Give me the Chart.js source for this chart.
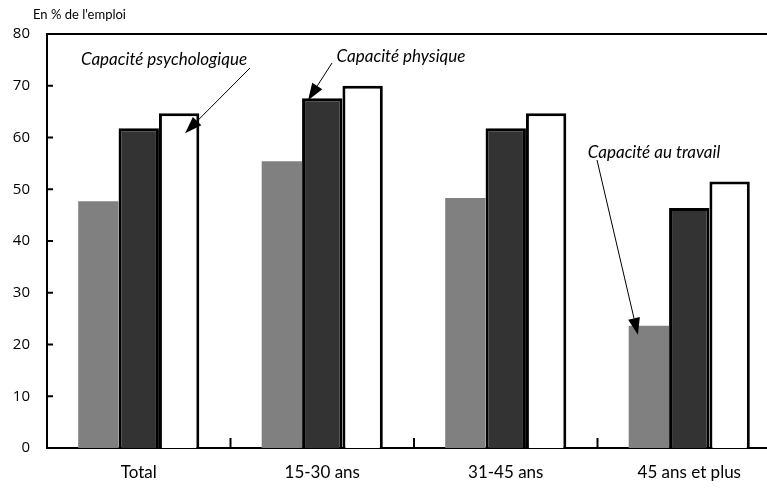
<!DOCTYPE html>
<html>
<head>
<meta charset="utf-8">
<script src="https://cdn.jsdelivr.net/npm/chart.js@4.4.1/dist/chart.umd.min.js"></script>
<style>
  html, body { margin: 0; padding: 0; background: #fff; overflow: hidden; }
  #wrap { position: relative; width: 801px; height: 490px; }
</style>
</head>
<body>
<div id="wrap"><canvas id="chart"></canvas></div>
<script>
const categories = ['Total', '15-30 ans', '31-45 ans', '45 ans et plus'];
const travail = [47.7, 55.4, 48.3, 23.6];
const physique = [61.8, 67.6, 61.8, 46.4];
const psychologique = [64.7, 70.0, 64.7, 51.5];
const yTicks = [0, 10, 20, 30, 40, 50, 60, 70, 80];

function arrow(ctx, x1, y1, x2, y2) {
    const ang = Math.atan2(y2 - y1, x2 - x1);
    const len = 17, half = 6;
    const bx = x2 - len * Math.cos(ang), by = y2 - len * Math.sin(ang);
    ctx.beginPath();
    ctx.moveTo(x1, y1);
    ctx.lineTo(bx, by);
    ctx.lineWidth = 1;
    ctx.strokeStyle = '#000';
    ctx.stroke();
    ctx.beginPath();
    ctx.moveTo(x2, y2);
    ctx.lineTo(bx + half * Math.sin(ang), by - half * Math.cos(ang));
    ctx.lineTo(bx - half * Math.sin(ang), by + half * Math.cos(ang));
    ctx.closePath();
    ctx.fillStyle = '#000';
    ctx.fill();
}

const decor = {
    id: 'decor',
    afterDraw(chart) {
        const ctx = chart.ctx;
        const area = chart.chartArea;
        const x = chart.scales.x, y = chart.scales.y;
        ctx.save();

        // unit label
        ctx.font = '13px Lato';
        ctx.fillStyle = '#000';
        ctx.textAlign = 'left';
        ctx.textBaseline = 'middle';
        ctx.fillText("En % de l'emploi", 33, 15);

        // top frame line
        ctx.strokeStyle = '#000';
        ctx.lineWidth = 2;
        ctx.beginPath();
        ctx.moveTo(area.left - 1, area.top);
        ctx.lineTo(chart.width, area.top);
        ctx.stroke();

        // inward y ticks
        yTicks.forEach(v => {
            const py = y.getPixelForValue(v);
            ctx.beginPath();
            ctx.moveTo(area.left, py);
            ctx.lineTo(area.left + 6, py);
            ctx.stroke();
        });

        // inward x ticks between categories
        for (let i = 0; i < categories.length - 1; i++) {
            const px = (x.getPixelForTick(i) + x.getPixelForTick(i + 1)) / 2;
            ctx.beginPath();
            ctx.moveTo(px, area.bottom);
            ctx.lineTo(px, area.bottom - 10);
            ctx.stroke();
        }

        // annotations
        ctx.font = 'italic 17px Lato';
        ctx.textAlign = 'center';
        ctx.fillStyle = '#000';
        ctx.fillText('Capacité psychologique', 164, 60);
        ctx.fillText('Capacité physique', 401, 57);
        ctx.fillText('Capacité au travail', 654, 153);

        const psy = chart.getDatasetMeta(2).data[0];
        arrow(ctx, 250, 68, psy.x + 6, psy.y + 20);
        const phy = chart.getDatasetMeta(1).data[1];
        arrow(ctx, 332, 63, phy.x - phy.width / 2 + 6, phy.y + 2);
        const trv = chart.getDatasetMeta(0).data[3];
        arrow(ctx, 597, 160, trv.x - 11, trv.y + 9);

        ctx.restore();
    }
};

new Chart(document.getElementById('chart'), {
    type: 'bar',
    data: {
        labels: categories,
        datasets: [
            {
                label: 'Capacité au travail',
                data: travail,
                backgroundColor: '#808080',
                borderWidth: 0
            },
            {
                label: 'Capacité physique',
                data: physique,
                backgroundColor: '#333333',
                borderColor: '#000',
                borderWidth: 3
            },
            {
                label: 'Capacité psychologique',
                data: psychologique,
                backgroundColor: '#ffffff',
                borderColor: '#000',
                borderWidth: 3
            }
        ]
    },
    options: {
        responsive: true,
        maintainAspectRatio: false,
        animation: false,
        layout: { padding: { top: 34, right: 20, left: 0, bottom: 0 } },
        plugins: {
            legend: { display: false },
            tooltip: { enabled: false }
        },
        datasets: {
            bar: { categoryPercentage: 0.66, barPercentage: 1.0 }
        },
        scales: {
            x: {
                grid: { display: false, drawTicks: false },
                border: { display: true, color: '#000', width: 2 },
                ticks: { color: '#000', font: { family: 'Lato', size: 17 }, padding: 14 },
                afterFit(scale) { scale.height = 42; }
            },
            y: {
                min: 0,
                max: 80,
                afterBuildTicks(scale) { scale.ticks = yTicks.map(v => ({ value: v })); },
                grid: { display: false, drawTicks: false },
                border: { display: true, color: '#000', width: 2 },
                ticks: { color: '#000', font: { family: 'Open Sans', size: 15 }, padding: 17 },
                afterFit(scale) { scale.width = 47; }
            }
        }
    },
    plugins: [decor]
});
</script>
</body>
</html>
